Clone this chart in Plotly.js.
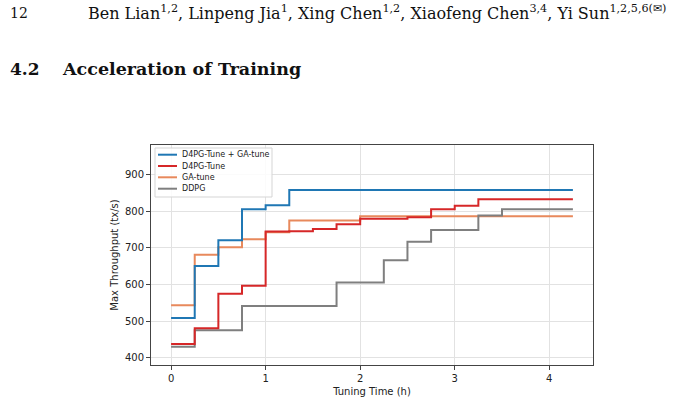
<!DOCTYPE html>
<html>
<head>
<meta charset="utf-8">
<script src="https://cdn.plot.ly/plotly-3.0.1.min.js"></script>
<style>
html,body{margin:0;padding:0;background:#fff;}
#chart{width:685px;height:401px;}
</style>
</head>
<body>
<div id="chart"></div>
<script>
// ---- data ----
const tuningTime = [0, 0.25, 0.5, 0.75, 1.0, 1.25, 1.5, 1.75, 2.0, 2.25, 2.5, 2.75, 3.0, 3.25, 3.5, 3.75, 4.0, 4.25];
const seriesNames = ["D4PG-Tune + GA-tune", "D4PG-Tune", "GA-tune", "DDPG"];
const d4pgGaTune = [508, 650, 720, 805, 816, 857, 857, 857, 857, 857, 857, 857, 857, 857, 857, 857, 857, 857];
const d4pgTune   = [437, 480, 574, 596, 744, 745, 751, 764, 779, 779, 783, 805, 814, 832, 832, 832, 832, 832];
const gaTune     = [543, 681, 701, 723, 742, 774, 774, 774, 786, 786, 786, 786, 786, 786, 786, 786, 786, 786];
const ddpg       = [430, 475, 475, 541, 541, 541, 541, 605, 605, 666, 716, 748, 748, 788, 805, 805, 805, 805];
const xTicks = [0, 1, 2, 3, 4];
const yTicks = [400, 500, 600, 700, 800, 900];
const colors = ["#1f77b4", "#d62728", "#e8895c", "#7f7f7f"];

// ---- layout helpers (pixel -> paper) ----
const W = 685, H = 401;
const PL = 151, PR = 593, PT = 145, PB = 365;
const px = v => (v - PL) / (PR - PL);
const py = v => (PB - v) / (PB - PT);

const allSeries = [d4pgGaTune, d4pgTune, gaTune, ddpg];
const drawOrder = [2, 3, 1, 0];
const traces = drawOrder.map(i => ({
  x: tuningTime, y: allSeries[i], type: "scatter", mode: "lines",
  name: seriesNames[i], showlegend: false,
  line: {shape: "hv", color: colors[i], width: 2}
}));

const chartFont = "DejaVu Sans, sans-serif";
const serif = "DejaVu Serif, serif";

const annotations = [
  {text: "12", x: px(8), y: py(13), xanchor: "left", yanchor: "middle", font: {family: serif, size: 14, color: "#111"}},
  {text: "Ben Lian<sup>1,2</sup>, Linpeng Jia<sup>1</sup>, Xing Chen<sup>1,2</sup>, Xiaofeng Chen<sup>3,4</sup>, Yi Sun<sup>1,2,5,6(✉)</sup>",
   x: px(86), y: py(13), xanchor: "left", yanchor: "middle", font: {family: serif, size: 16, color: "#111"}},
  {text: "<b>4.2</b>", x: px(8), y: py(69), xanchor: "left", yanchor: "middle", font: {family: serif, size: 17, color: "#111"}},
  {text: "<b>Acceleration of Training</b>", x: px(60), y: py(69), xanchor: "left", yanchor: "middle", font: {family: serif, size: 17.5, color: "#111"}}
];
const shapes = [
  {type: "rect", xref: "paper", yref: "paper", x0: px(155), x1: px(272), y0: py(197), y1: py(148),
   line: {color: "#d5d5d5", width: 1}, fillcolor: "rgba(255,255,255,0.85)", layer: "above"}
];
const legendY = [154.7, 166, 177.3, 188.7];
seriesNames.forEach((n, i) => {
  shapes.push({type: "line", xref: "paper", yref: "paper", x0: px(158), x1: px(177), y0: py(legendY[i]), y1: py(legendY[i]),
    line: {color: colors[i], width: 2}, layer: "above"});
  annotations.push({text: n, x: px(180), y: py(legendY[i]), xanchor: "left", yanchor: "middle",
    font: {family: chartFont, size: 8, color: "#222"}});
});
annotations.forEach(a => { a.xref = "paper"; a.yref = "paper"; a.showarrow = false; });

const layout = {
  width: W, height: H,
  margin: {l: PL, r: W - PR, t: PT, b: H - PB, pad: 0},
  paper_bgcolor: "#fff", plot_bgcolor: "#fff",
  font: {family: chartFont, size: 10, color: "#222"},
  xaxis: {
    range: [-0.2125, 4.4625], tickvals: xTicks, ticktext: xTicks.map(String),
    showgrid: true, gridcolor: "#e2e2e2", gridwidth: 1, zeroline: false,
    showline: true, linecolor: "#444", linewidth: 1, mirror: true,
    ticks: "outside", ticklen: 4, tickcolor: "#444",
    title: {text: "Tuning Time (h)", font: {size: 10}, standoff: 4}
  },
  yaxis: {
    range: [380, 980], tickvals: yTicks, ticktext: yTicks.map(String),
    showgrid: true, gridcolor: "#e2e2e2", gridwidth: 1, zeroline: false,
    showline: true, linecolor: "#444", linewidth: 1, mirror: true,
    ticks: "outside", ticklen: 4, tickcolor: "#444",
    title: {text: "Max Throughput (tx/s)", font: {size: 10}, standoff: 4}
  },
  shapes: shapes,
  annotations: annotations,
  showlegend: false
};
Plotly.newPlot("chart", traces, layout, {displayModeBar: false, staticPlot: true});
</script>
</body>
</html>
